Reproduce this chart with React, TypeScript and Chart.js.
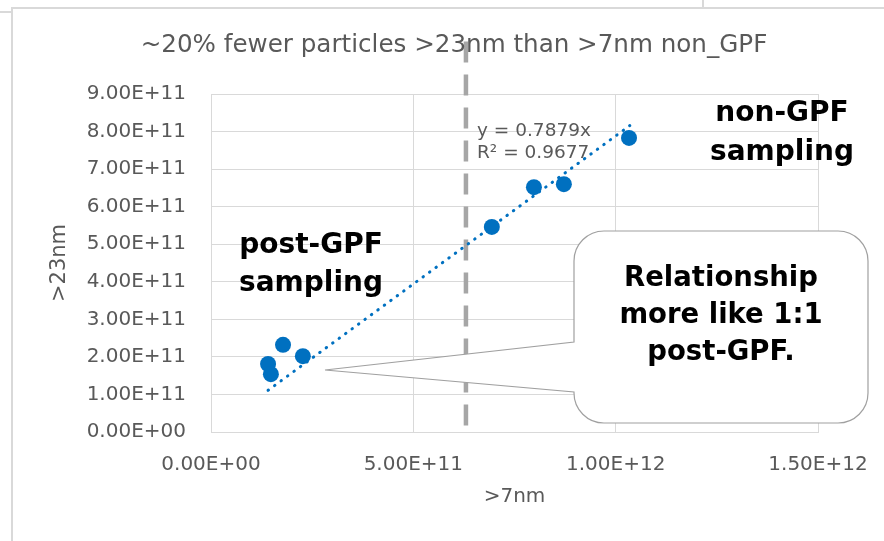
import { useEffect, useRef } from "react";
import { Chart, registerables } from "chart.js";

Chart.register(...registerables);

// ---- data ----
const nm7 = [1.41e11, 1.48e11, 1.78e11, 2.27e11, 6.94e11, 7.98e11, 8.72e11, 1.033e12];
const nm23 = [1.81e11, 1.54e11, 2.32e11, 2.02e11, 5.46e11, 6.52e11, 6.6e11, 7.83e11];
const trendX = [1.41e11, 1.035e12];
const trendY = [1.11e11, 8.16e11];
const gpfX = [6.3e11, 6.3e11];
const gpfY = [1.04e12, 0];
const xRange = [0, 1.5e12];
const xStep = 5e11;
const yRange = [0, 9e11];
const yStep = 1e11;

const chartTitle = "~20% fewer particles >23nm than >7nm non_GPF";
const xTitle = ">7nm";
const yTitle = ">23nm";
const trendLabels = ["y = 0.7879x", "R\u00B2 = 0.9677"];
const nonGpfLabel = ["non-GPF", "sampling"];
const postGpfLabel = ["post-GPF", "sampling"];
const calloutLabel = ["Relationship", "more like 1:1", "post-GPF."];

// ---- styling / layout ----
const FONT = "'DejaVu Sans', 'Liberation Sans', Arial, sans-serif";
const GREY_TEXT = "#595959";
const GRID = "#d9d9d9";
const BLUE = "#0070C0";
const W = 884;
const H = 541;

function fmt(v: number): string {
  if (v === 0) return "0.00E+00";
  const [m, e] = v.toExponential(2).split("e");
  const sign = e[0];
  const digits = e.slice(1).padStart(2, "0");
  return `${m}E${sign}${digits}`;
}

const overlay = {
  id: "overlay",
  beforeDraw(chart: any) {
    const ctx = chart.ctx as CanvasRenderingContext2D;
    ctx.save();
    ctx.strokeStyle = GRID;
    ctx.lineWidth = 2;
    ctx.beginPath();
    ctx.moveTo(0, 12);
    ctx.lineTo(12, 12);
    ctx.moveTo(12, H);
    ctx.lineTo(12, 8);
    ctx.lineTo(W, 8);
    ctx.moveTo(703, 0);
    ctx.lineTo(703, 8);
    ctx.stroke();
    ctx.restore();
  },
  afterDraw(chart: any) {
    const ctx = chart.ctx as CanvasRenderingContext2D;
    ctx.save();
    // title
    ctx.fillStyle = GREY_TEXT;
    ctx.font = `24.6px ${FONT}`;
    ctx.textAlign = "center";
    ctx.textBaseline = "middle";
    ctx.fillText(chartTitle, 454, 46);

    // trendline equation
    ctx.font = `18.5px ${FONT}`;
    ctx.textAlign = "left";
    trendLabels.forEach((t, i) => ctx.fillText(t, 477, 131 + i * 22));

    // bold labels
    ctx.fillStyle = "#000000";
    ctx.font = `bold 28px ${FONT}`;
    ctx.textAlign = "center";
    nonGpfLabel.forEach((t, i) => ctx.fillText(t, 782, 114 + i * 39));
    postGpfLabel.forEach((t, i) => ctx.fillText(t, 311, 246 + i * 38));

    // callout
    const bx = 574, by = 231, bw = 294, bh = 192, r = 30;
    const tipX = 325, tipY = 370, w1 = 392, w2 = 342;
    ctx.beginPath();
    ctx.moveTo(bx + r, by);
    ctx.lineTo(bx + bw - r, by);
    ctx.arcTo(bx + bw, by, bx + bw, by + r, r);
    ctx.lineTo(bx + bw, by + bh - r);
    ctx.arcTo(bx + bw, by + bh, bx + bw - r, by + bh, r);
    ctx.lineTo(bx + r, by + bh);
    ctx.arcTo(bx, by + bh, bx, by + bh - r, r);
    ctx.lineTo(bx, w1);
    ctx.lineTo(tipX, tipY);
    ctx.lineTo(bx, w2);
    ctx.lineTo(bx, by + r);
    ctx.arcTo(bx, by, bx + r, by, r);
    ctx.closePath();
    ctx.fillStyle = "#ffffff";
    ctx.fill();
    ctx.strokeStyle = "#a0a0a0";
    ctx.lineWidth = 1.2;
    ctx.stroke();

    ctx.fillStyle = "#000000";
    ctx.font = `bold 27.5px ${FONT}`;
    ctx.textAlign = "center";
    calloutLabel.forEach((t, i) => ctx.fillText(t, bx + bw / 2, 279 + i * 37));
    ctx.restore();
  },
};

export default function App() {
  const ref = useRef<HTMLCanvasElement | null>(null);

  useEffect(() => {
    if (!ref.current) return;
    const chart = new Chart(ref.current, {
      type: "scatter",
      data: {
        datasets: [
          {
            label: "points",
            data: nm7.map((x, i) => ({ x, y: nm23[i] })),
            backgroundColor: BLUE,
            borderWidth: 0,
            pointRadius: 8,
            pointHoverRadius: 8,
            order: 0,
          },
          {
            label: "trend",
            type: "line",
            data: trendX.map((x, i) => ({ x, y: trendY[i] })),
            borderColor: BLUE,
            borderWidth: 3,
            borderDash: [0.5, 7.5],
            borderCapStyle: "round",
            pointRadius: 0,
            fill: false,
            order: 1,
          } as any,
          {
            label: "gpf",
            type: "line",
            data: gpfX.map((x, i) => ({ x, y: gpfY[i] })),
            borderColor: "#a6a6a6",
            borderWidth: 4.5,
            borderDash: [21, 12],
            borderCapStyle: "butt",
            pointRadius: 0,
            fill: false,
            clip: false,
            order: 2,
          } as any,
        ],
      },
      options: {
        responsive: false,
        animation: false,
        devicePixelRatio: 1,
        events: [],
        layout: { padding: { top: 94, right: 66, left: 0, bottom: 0 } },
        plugins: {
          legend: { display: false },
          tooltip: { enabled: false },
          title: { display: false },
        },
        scales: {
          x: {
            type: "linear",
            min: xRange[0],
            max: xRange[1],
            ticks: {
              stepSize: xStep,
              callback: (v: any) => fmt(Number(v)),
              color: GREY_TEXT,
              font: { family: FONT, size: 20, lineHeight: 2.2 },
              padding: 11,
              maxRotation: 0,
            },
            grid: { color: GRID, drawTicks: false },
            border: { color: GRID },
            title: {
              display: true,
              text: xTitle,
              color: GREY_TEXT,
              font: { family: FONT, size: 20 },
              padding: { top: 0, bottom: 32 },
            },
            afterFit: (s: any) => {
              s.height = H - 432;
            },
          },
          y: {
            type: "linear",
            min: yRange[0],
            max: yRange[1],
            ticks: {
              stepSize: yStep,
              callback: (v: any) => fmt(Number(v)),
              color: GREY_TEXT,
              font: { family: FONT, size: 20 },
              padding: 25,
            },
            grid: { color: GRID, drawTicks: false },
            border: { color: GRID },
            title: {
              display: true,
              text: yTitle,
              color: GREY_TEXT,
              font: { family: FONT, size: 21 },
              padding: { top: 47, bottom: 0 },
            },
            afterFit: (s: any) => {
              s.width = 211;
            },
          },
        },
      } as any,
      plugins: [overlay],
    });
    return () => chart.destroy();
  }, []);

  return (
    <div style={{ position: "fixed", left: 0, top: 0, width: W, height: H, background: "#ffffff" }}>
      <canvas ref={ref} width={W} height={H} style={{ display: "block" }} />
    </div>
  );
}
